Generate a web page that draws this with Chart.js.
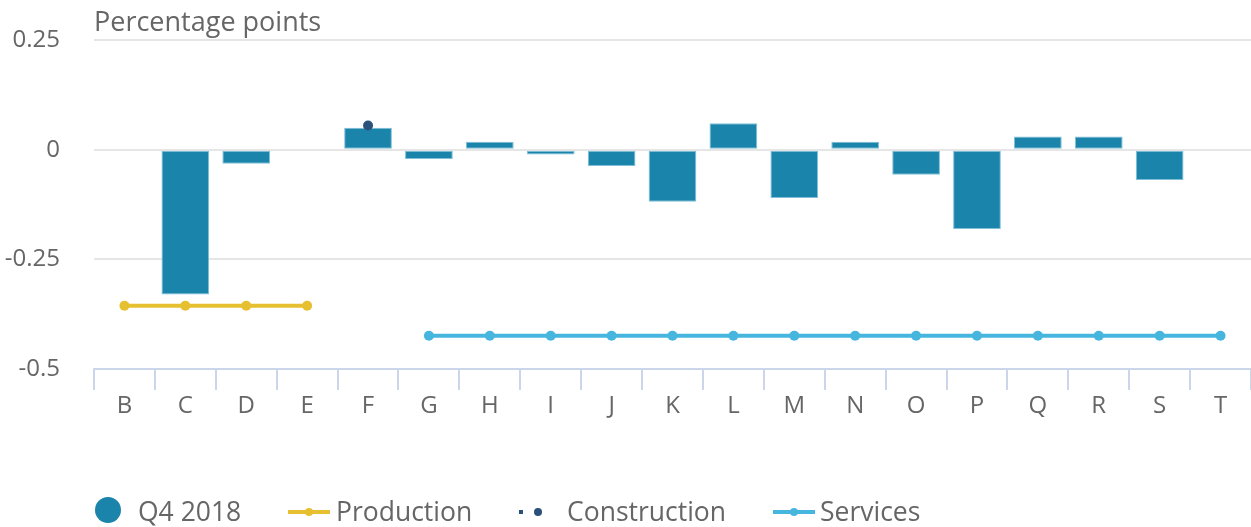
<!DOCTYPE html>
<html>
<head>
<meta charset="utf-8">
<script src="https://cdn.jsdelivr.net/npm/chart.js@4.4.1/dist/chart.umd.min.js"></script>
<style>
  html, body { margin: 0; padding: 0; background: #fff; overflow: hidden; }
  canvas { display: block; }
</style>
</head>
<body>
<canvas id="chart" width="1251" height="527"></canvas>
<script>
// categories and values
var categories = ["B", "C", "D", "E", "F", "G", "H", "I", "J", "K", "L", "M", "N", "O", "P", "Q", "R", "S", "T"];
var q42018 = [null, -0.33, -0.032, null, 0.05, -0.021, 0.018, -0.011, -0.037, -0.119, 0.06, -0.11, 0.018, -0.057, -0.181, 0.03, 0.03, -0.069, null];
var production = [-0.356, -0.356, -0.356, -0.356, null, null, null, null, null, null, null, null, null, null, null, null, null, null, null];
var construction = [null, null, null, null, 0.055, null, null, null, null, null, null, null, null, null, null, null, null, null, null];
var services = [null, null, null, null, null, -0.424, -0.424, -0.424, -0.424, -0.424, -0.424, -0.424, -0.424, -0.424, -0.424, -0.424, -0.424, -0.424, -0.424];
var yTicks = [0.25, 0, -0.25, -0.5];

var FONT = "'Open Sans', sans-serif";
var GREY = "#666666";

// title + legend drawn on the canvas
var extras = {
    id: 'extras',
    afterDraw: function (chart) {
        var ctx = chart.ctx;
        ctx.save();
        ctx.fillStyle = GREY;
        ctx.font = "27px " + FONT;
        ctx.textBaseline = 'middle';
        ctx.textAlign = 'left';
        ctx.fillText("Percentage points", 94, 23);

        ctx.font = "26.5px " + FONT;
        var y = 513;
        var ds = chart.data.datasets;
        // Q4 2018
        ctx.fillStyle = ds[0].backgroundColor;
        ctx.beginPath(); ctx.arc(108, 510, 13, 0, Math.PI * 2); ctx.fill();
        ctx.fillStyle = GREY;
        ctx.fillText(ds[0].label, 138, y);
        // Production
        ctx.strokeStyle = ds[1].borderColor; ctx.lineWidth = 4;
        ctx.beginPath(); ctx.moveTo(288, 512); ctx.lineTo(330, 512); ctx.stroke();
        ctx.fillStyle = ds[1].borderColor;
        ctx.beginPath(); ctx.arc(309, 512, 4, 0, Math.PI * 2); ctx.fill();
        ctx.fillStyle = GREY;
        ctx.fillText(ds[1].label, 336, y);
        // Construction
        ctx.fillStyle = ds[2].pointBackgroundColor;
        ctx.fillRect(519, 510, 4, 4);
        ctx.beginPath(); ctx.arc(538, 512, 4, 0, Math.PI * 2); ctx.fill();
        ctx.fillStyle = GREY;
        ctx.fillText(ds[2].label, 567, y);
        // Services
        ctx.strokeStyle = ds[3].borderColor; ctx.lineWidth = 4;
        ctx.beginPath(); ctx.moveTo(773, 512); ctx.lineTo(815, 512); ctx.stroke();
        ctx.fillStyle = ds[3].borderColor;
        ctx.beginPath(); ctx.arc(794, 512, 4, 0, Math.PI * 2); ctx.fill();
        ctx.fillStyle = GREY;
        ctx.fillText(ds[3].label, 820, y);
        ctx.restore();
    }
};

new Chart(document.getElementById("chart"), {
    type: 'bar',
    data: {
        labels: categories,
        datasets: [
            {
                label: "Q4 2018",
                data: q42018,
                backgroundColor: "#1b84ab",
                borderColor: "#7fc0d8",
                borderWidth: 1,
                borderSkipped: false,
                categoryPercentage: 0.8,
                barPercentage: 0.98,
                grouped: false,
                order: 3
            },
            {
                type: 'line',
                label: "Production",
                data: production,
                borderColor: "#e6c030",
                backgroundColor: "#e6c030",
                borderWidth: 4,
                pointRadius: 5,
                pointBackgroundColor: "#e6c030",
                pointBorderWidth: 0,
                spanGaps: false,
                order: 1
            },
            {
                type: 'line',
                label: "Construction",
                data: construction,
                showLine: false,
                borderColor: "#2b5079",
                pointRadius: 5,
                pointBackgroundColor: "#2b5079",
                pointBorderWidth: 0,
                order: 0
            },
            {
                type: 'line',
                label: "Services",
                data: services,
                borderColor: "#47b6df",
                backgroundColor: "#47b6df",
                borderWidth: 4,
                pointRadius: 5,
                pointBackgroundColor: "#47b6df",
                pointBorderWidth: 0,
                order: 1
            }
        ]
    },
    options: {
        responsive: false,
        animation: false,
        layout: { autoPadding: false, padding: { top: 40, right: 0, left: 0, bottom: 0 } },
        plugins: {
            legend: { display: false },
            tooltip: { enabled: false }
        },
        scales: {
            x: {
                offset: true,
                afterFit: function (scale) {
                    scale.height = 158;
                    scale.paddingLeft = 0;
                    scale.paddingRight = 0;
                },
                grid: {
                    display: true,
                    drawOnChartArea: false,
                    offset: true,
                    color: "#ccd6eb",
                    lineWidth: 2,
                    tickLength: 21
                },
                border: { display: true, color: "#ccd6eb", width: 2 },
                ticks: {
                    color: GREY,
                    font: { family: FONT, size: 24 },
                    padding: 2,
                    maxRotation: 0
                }
            },
            y: {
                min: -0.5,
                max: 0.25,
                afterFit: function (scale) {
                    scale.width = 94;
                    scale.paddingTop = 0;
                    scale.paddingBottom = 0;
                },
                afterBuildTicks: function (scale) {
                    scale.ticks = yTicks.map(function (v) { return { value: v }; });
                },
                grid: {
                    color: function (c) { return c.tick && c.tick.value === -0.5 ? 'rgba(0,0,0,0)' : "#e6e6e6"; },
                    lineWidth: 2,
                    drawTicks: false
                },
                border: { display: false },
                ticks: {
                    color: GREY,
                    font: { family: FONT, size: 24 },
                    padding: 34,
                    callback: function (v) { return String(v); }
                }
            }
        }
    },
    plugins: [extras]
});
</script>
</body>
</html>
